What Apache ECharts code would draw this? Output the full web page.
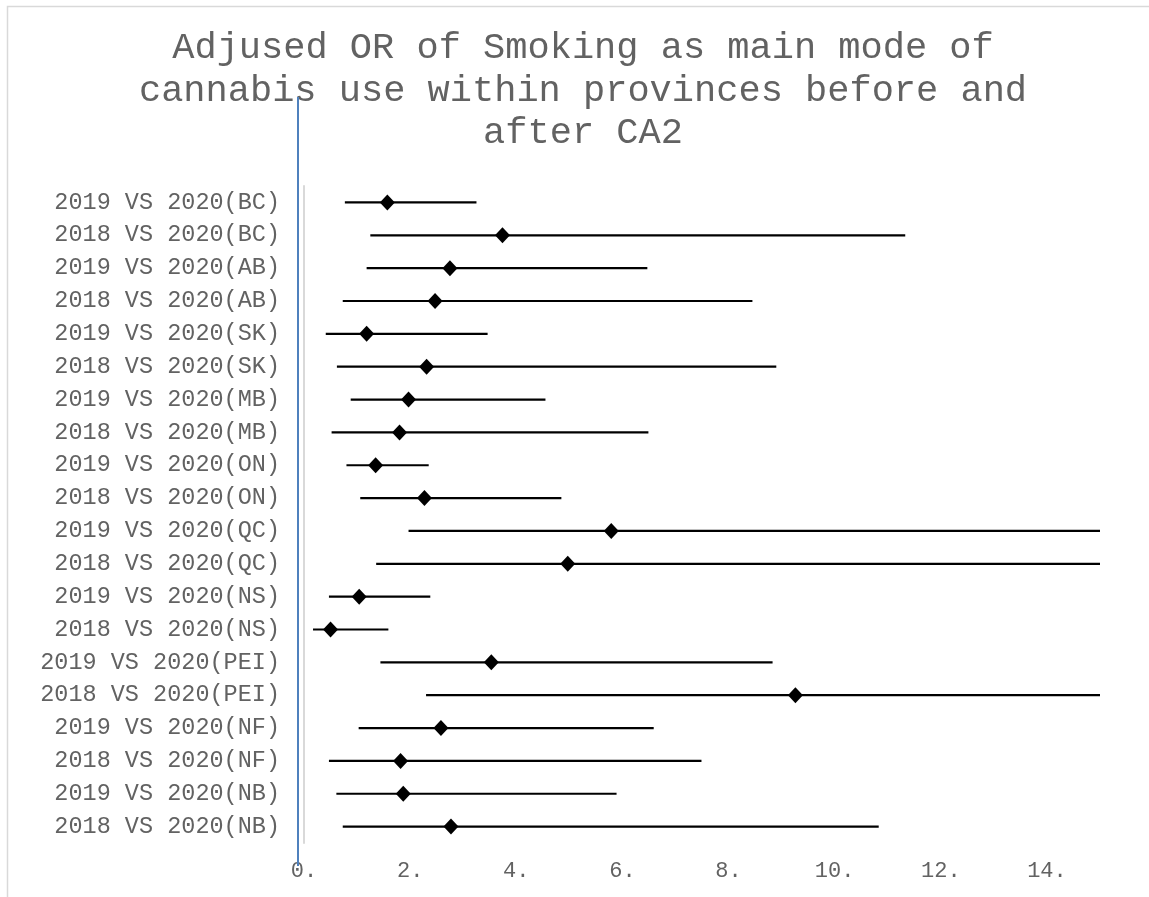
<!DOCTYPE html>
<html>
<head>
<meta charset="utf-8">
<title>Adjusted OR forest plot</title>
<script src="https://cdn.jsdelivr.net/npm/echarts@6/dist/echarts.min.js"></script>
<style>
  html, body { margin: 0; padding: 0; background: #ffffff; }
  #chart { width: 1149px; height: 897px; }
</style>
</head>
<body>
<div id="chart"></div>
<script>
// Comparisons, top to bottom
const categories = [
  '2019 VS 2020(BC)', '2018 VS 2020(BC)',
  '2019 VS 2020(AB)', '2018 VS 2020(AB)',
  '2019 VS 2020(SK)', '2018 VS 2020(SK)',
  '2019 VS 2020(MB)', '2018 VS 2020(MB)',
  '2019 VS 2020(ON)', '2018 VS 2020(ON)',
  '2019 VS 2020(QC)', '2018 VS 2020(QC)',
  '2019 VS 2020(NS)', '2018 VS 2020(NS)',
  '2019 VS 2020(PEI)', '2018 VS 2020(PEI)',
  '2019 VS 2020(NF)', '2018 VS 2020(NF)',
  '2019 VS 2020(NB)', '2018 VS 2020(NB)'
];

// Adjusted odds ratios
const oddsRatio = [
  1.57, 3.74, 2.75, 2.47, 1.18, 2.31, 1.97, 1.80, 1.35, 2.27,
  5.79, 4.97, 1.04, 0.50, 3.53, 9.26, 2.58, 1.82, 1.87, 2.77
];

// 95% confidence interval, lower bound
const ciLow = [
  0.77, 1.25, 1.18, 0.73, 0.41, 0.62, 0.88, 0.52, 0.80, 1.06,
  1.97, 1.36, 0.47, 0.17, 1.44, 2.30, 1.03, 0.47, 0.61, 0.73
];

// 95% confidence interval, upper bound
const ciHigh = [
  3.25, 11.33, 6.47, 8.45, 3.46, 8.90, 4.55, 6.49, 2.35, 4.85,
  17.0, 18.2, 2.38, 1.59, 8.83, 37.3, 6.59, 7.49, 5.89, 10.83
];

// Axis range and tick step
const xMin = 0;
const xMax = 15;
const xStep = 2;

const titleText = 'Adjused OR of Smoking as main mode of\ncannabis use within provinces before and\nafter CA2';

const intervalData = categories.map((c, i) => [i, ciLow[i], ciHigh[i]]);
const pointData = categories.map((c, i) => [oddsRatio[i], c]);

const mono = '"Liberation Mono", "Courier New", monospace';

const chart = echarts.init(document.getElementById('chart'), null, { renderer: 'canvas' });

chart.setOption({
  backgroundColor: '#ffffff',
  animation: false,
  title: {
    text: titleText,
    left: 578,
    top: 22,
    textAlign: 'center',
    textStyle: {
      fontFamily: mono,
      fontSize: 37,
      fontWeight: 'normal',
      color: '#626262',
      lineHeight: 42.5
    }
  },
  graphic: [
    {
      // chart frame
      type: 'rect',
      silent: true,
      shape: { x: 7.5, y: 6.5, width: 1200, height: 1000 },
      style: { fill: null, stroke: '#d9d9d9', lineWidth: 1.5 }
    },
    {
      // blue reference rule
      type: 'line',
      silent: true,
      z: 10,
      shape: { x1: 298, y1: 97, x2: 298, y2: 866 },
      style: { stroke: '#4f81bd', lineWidth: 2 }
    }
  ],
  grid: {
    left: 304,
    right: 49,
    top: 186,
    bottom: 54,
    containLabel: false
  },
  xAxis: {
    type: 'value',
    min: xMin,
    max: xMax,
    interval: xStep,
    axisLine: { show: false },
    axisTick: { show: false },
    splitLine: { show: false },
    axisLabel: {
      showMaxLabel: false,
      margin: 17,
      fontFamily: mono,
      fontSize: 22,
      color: '#626262',
      formatter: v => v + '.'
    }
  },
  yAxis: {
    type: 'category',
    data: categories,
    inverse: true,
    axisLine: { show: true, lineStyle: { color: '#d9d9d9', width: 2 } },
    axisTick: { show: false },
    splitLine: { show: false },
    axisLabel: {
      margin: 24,
      fontFamily: mono,
      fontSize: 23.5,
      color: '#626262'
    }
  },
  series: [
    {
      name: 'CI',
      type: 'custom',
      data: intervalData,
      encode: { x: [1, 2], y: 0 },
      z: 2,
      renderItem: function (params, api) {
        const idx = api.value(0);
        const p1 = api.coord([api.value(1), idx]);
        const p2 = api.coord([api.value(2), idx]);
        const cs = params.coordSys;
        const left = cs.x;
        const right = cs.x + cs.width;
        const x1 = Math.max(left, Math.min(right, p1[0]));
        const x2 = Math.max(left, Math.min(right, p2[0]));
        return {
          type: 'line',
          shape: { x1: x1, y1: p1[1], x2: x2, y2: p2[1] },
          style: { stroke: '#000000', lineWidth: 2.2 }
        };
      }
    },
    {
      name: 'OR',
      type: 'scatter',
      data: pointData,
      symbol: 'diamond',
      symbolSize: [15, 16],
      z: 5,
      itemStyle: { color: '#000000', opacity: 1 }
    }
  ]
});
</script>
</body>
</html>
